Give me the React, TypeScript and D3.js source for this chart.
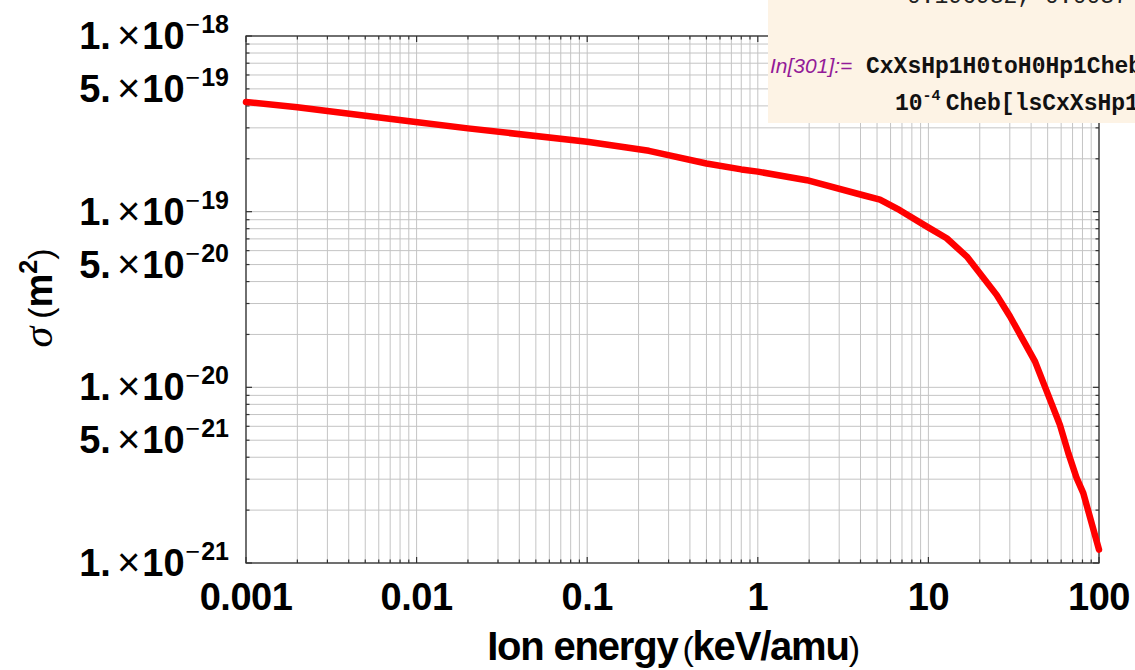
import * as React from "react";
import * as d3 from "d3";

// cross section vs ion energy
const energies = [0.001, 0.002, 0.0096, 0.02, 0.1, 0.23, 0.5, 0.8, 1, 1.94, 4.15, 5.2, 6.8, 9.8, 12.8, 16.8, 25.1, 30.1, 42.2, 59, 66.1, 74, 80.9, 100];
const sigmas = [4.21e-19, 3.93e-19, 3.25e-19, 2.98e-19, 2.5e-19, 2.22e-19, 1.88e-19, 1.74e-19, 1.69e-19, 1.51e-19, 1.24e-19, 1.17e-19, 1.02e-19, 8.22e-20, 7.06e-20, 5.55e-20, 3.36e-20, 2.53e-20, 1.4e-20, 6.11e-21, 4.22e-21, 3.04e-21, 2.5e-21, 1.19e-21];

const xTickValues = [0.001, 0.01, 0.1, 1, 10, 100];
const xTickLabels = ["0.001", "0.01", "0.1", "1", "10", "100"];

const yTickValues = [1e-18, 5e-19, 1e-19, 5e-20, 1e-20, 5e-21, 1e-21];
const yTickMantissa = ["1.", "5.", "1.", "5.", "1.", "5.", "1."];
const yTickExponent = ["18", "19", "19", "20", "20", "21", "21"];

const xDomain = [0.001, 100];
const yDomain = [1e-21, 1e-18];

const notebookLine0 = "0.196932, 0.003741";
const notebookPrompt = "In[301]:=";
const notebookLine1 = "CxXsHp1H0toH0Hp1Cheb";
const notebookLine2 = "Cheb[lsCxXsHp1";

function drawChart(svgRef) {
  const svg = d3.select(svgRef.current);
  svg.selectAll("*").remove();

  const width = 1135;
  const height = 670;
  const left = 246;
  const right = 1099;
  const top = 36;
  const bottom = 563;
  const sans = "'Liberation Sans', Arial, sans-serif";
  const mono = "'Liberation Mono', 'Courier New', monospace";

  svg.attr("width", width).attr("height", height);

  const xScale = d3.scaleLog().domain(xDomain).range([left, right]);
  const yScale = d3.scaleLog().domain(yDomain).range([bottom, top]);

  const xMinor = xScale.ticks();
  const yMinor = yScale.ticks();

  // grid
  const grid = svg.append("g").attr("stroke", "#c4c4c4").attr("stroke-width", 1);
  grid
    .selectAll("line.vx")
    .data(xMinor)
    .enter()
    .append("line")
    .attr("x1", (d) => xScale(d))
    .attr("x2", (d) => xScale(d))
    .attr("y1", top)
    .attr("y2", bottom);
  grid
    .selectAll("line.hy")
    .data(yMinor)
    .enter()
    .append("line")
    .attr("y1", (d) => yScale(d))
    .attr("y2", (d) => yScale(d))
    .attr("x1", left)
    .attr("x2", right);

  // frame ticks on all sides
  const isMajor = (d) => Math.abs(Math.log10(d) - Math.round(Math.log10(d))) < 1e-6;
  const ticks = svg.append("g").attr("stroke", "#333").attr("stroke-width", 1.2);
  xMinor.forEach((d) => {
    const len = isMajor(d) ? 6 : 3.5;
    ticks.append("line").attr("x1", xScale(d)).attr("x2", xScale(d)).attr("y1", bottom).attr("y2", bottom - len);
    ticks.append("line").attr("x1", xScale(d)).attr("x2", xScale(d)).attr("y1", top).attr("y2", top + len);
  });
  yMinor.forEach((d) => {
    const len = isMajor(d) ? 6 : 3.5;
    ticks.append("line").attr("y1", yScale(d)).attr("y2", yScale(d)).attr("x1", left).attr("x2", left + len);
    ticks.append("line").attr("y1", yScale(d)).attr("y2", yScale(d)).attr("x1", right).attr("x2", right - len);
  });

  svg
    .append("rect")
    .attr("x", left)
    .attr("y", top)
    .attr("width", right - left)
    .attr("height", bottom - top)
    .attr("fill", "none")
    .attr("stroke", "#333")
    .attr("stroke-width", 1.3);

  // curve
  const data = energies.map((e, i) => ({ e, s: sigmas[i] }));
  const line = d3
    .line()
    .x((d) => xScale(d.e))
    .y((d) => yScale(d.s));
  svg
    .append("path")
    .attr("d", line(data))
    .attr("fill", "none")
    .attr("stroke", "#ff0000")
    .attr("stroke-width", 6.5)
    .attr("stroke-linejoin", "round")
    .attr("stroke-linecap", "round");

  // x tick labels
  svg
    .append("g")
    .selectAll("text")
    .data(xTickValues)
    .enter()
    .append("text")
    .attr("x", (d) => xScale(d))
    .attr("y", 610)
    .attr("text-anchor", "middle")
    .attr("font-family", sans)
    .attr("font-weight", "bold")
    .attr("font-size", 38)
    .attr("letter-spacing", -0.5)
    .text((d, i) => xTickLabels[i]);

  // y tick labels  1.×10^-18
  yTickValues.forEach((v, i) => {
    const t = svg
      .append("text")
      .attr("x", 229)
      .attr("y", yScale(v) + 13)
      .attr("text-anchor", "end")
      .attr("font-family", sans)
      .attr("fill", "#000");
    t.append("tspan").attr("font-weight", "bold").attr("font-size", 38).text(yTickMantissa[i]);
    t.append("tspan").attr("font-size", 40).attr("dx", 6).text("×");
    t.append("tspan").attr("font-weight", "bold").attr("font-size", 38).attr("dx", 2).text("10");
    t.append("tspan").attr("font-size", 25).attr("dy", -16).attr("dx", 1).text("−");
    t.append("tspan").attr("font-weight", "bold").attr("font-size", 25).attr("dx", 1).text(yTickExponent[i]);
  });

  // x axis title
  const xt = svg
    .append("text")
    .attr("x", 673)
    .attr("y", 660)
    .attr("text-anchor", "middle")
    .attr("font-family", sans)
    .attr("font-size", 40)
    .attr("letter-spacing", -1.2);
  xt.append("tspan").attr("font-weight", "bold").text("Ion energy");
  xt.append("tspan").attr("font-size", 34).attr("dx", 5).text("(");
  xt.append("tspan").attr("font-weight", "bold").text("keV/amu");
  xt.append("tspan").attr("font-size", 34).text(")");

  // y axis title
  const yt = svg
    .append("text")
    .attr("transform", "translate(52, 298) rotate(-90)")
    .attr("text-anchor", "middle")
    .attr("font-family", sans)
    .attr("font-size", 38);
  yt.append("tspan").attr("font-family", "'Liberation Serif', serif").attr("font-style", "italic").attr("font-size", 42).text("σ");
  yt.append("tspan").attr("font-size", 34).attr("dx", 8).text("(");
  yt.append("tspan").attr("font-weight", "bold").text("m");
  yt.append("tspan").attr("font-weight", "bold").attr("font-size", 25).attr("dy", -15).text("2");
  yt.append("tspan").attr("font-size", 34).attr("dy", 15).text(")");

  // notebook overlay in the corner
  const nb = svg.append("g");
  nb.append("rect").attr("x", 768).attr("y", 0).attr("width", width - 768).attr("height", 123).attr("fill", "#fdf3e5");
  nb.append("text")
    .attr("x", 907)
    .attr("y", 3)
    .attr("font-family", mono)
    .attr("font-size", 23)
    .attr("fill", "#222")
    .text(notebookLine0);
  nb.append("text")
    .attr("x", 770)
    .attr("y", 73)
    .attr("font-family", sans)
    .attr("font-style", "italic")
    .attr("font-size", 21)
    .attr("fill", "#931b98")
    .text(notebookPrompt);
  nb.append("text")
    .attr("x", 866)
    .attr("y", 73)
    .attr("font-family", mono)
    .attr("font-weight", "bold")
    .attr("font-size", 23)
    .attr("fill", "#111")
    .text(notebookLine1);
  const l2 = nb
    .append("text")
    .attr("x", 895)
    .attr("y", 110)
    .attr("font-family", mono)
    .attr("font-weight", "bold")
    .attr("font-size", 23)
    .attr("fill", "#111");
  l2.append("tspan").text("10");
  l2.append("tspan").attr("font-size", 15).attr("dy", -10).text("-4");
  l2.append("tspan").attr("dy", 10).attr("dx", 5).text(notebookLine2);
}

const App = () => {
  const svg = React.useRef(null);
  React.useEffect(() => {
    drawChart(svg);
  }, [svg]);

  return <svg ref={svg} style={{ position: "absolute", left: 0, top: 0, background: "#fff" }} />;
};

export default App;
